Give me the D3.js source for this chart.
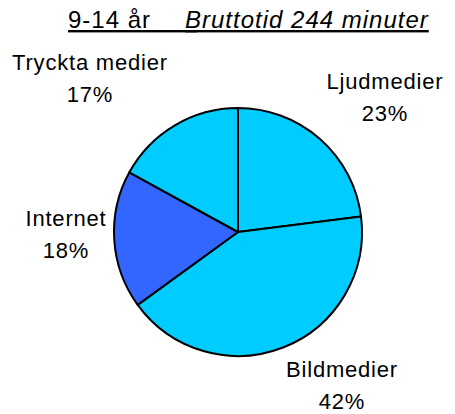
<!DOCTYPE html>
<html lang="sv">
<head>
<meta charset="UTF-8">
<script src="https://d3js.org/d3.v7.min.js"></script>
<style>
  body { margin: 0; padding: 0; background: #fff; font-family: "Liberation Sans", Arial, sans-serif; }
  svg text { fill: #000; }
</style>
</head>
<body>
<svg id="chart"></svg>
<script>
// data
const categories = ["Ljudmedier", "Bildmedier", "Internet", "Tryckta medier"];
const shares = [23, 42, 18, 17];
const titleAge = "9-14 år";
const titleText = "Bruttotid 244 minuter";

// layout (label anchors: center x, first baseline)
const labelPos = {
  "Ljudmedier":     [385, 89],
  "Bildmedier":     [342, 377],
  "Internet":       [66, 226],
  "Tryckta medier": [90, 70]
};
const colors = { "Internet": "#3366FF" };

function drawChart() {
  const width = 455, height = 414;
  const cx = 238, cy = 232, r = 124;

  const svg = d3.select("#chart").attr("width", width).attr("height", height);
  svg.selectAll("*").remove();

  const data = categories.map((c, i) => ({ name: c, value: shares[i] }));
  const pie = d3.pie().sort(null).value(d => d.value);
  const arc = d3.arc().innerRadius(0).outerRadius(r);

  const g = svg.append("g").attr("transform", `translate(${cx},${cy})`);
  g.selectAll("path")
    .data(pie(data))
    .join("path")
    .attr("d", arc)
    .attr("fill", d => colors[d.data.name] || "#00CCFF")
    .attr("stroke", "#000")
    .attr("stroke-width", 2)
    .attr("stroke-linejoin", "round");

  // title
  const title = svg.append("text")
    .attr("y", 28)
    .style("font-size", "24px")
    .style("letter-spacing", "1px")
    .style("text-decoration", "underline");
  title.append("tspan").attr("x", 68).text(titleAge + "\u00a0\u00a0\u00a0\u00a0\u00a0\u00a0");
  title.append("tspan").attr("x", 185).style("font-style", "italic").text(titleText);

  // labels
  const lab = svg.selectAll(".lab")
    .data(data)
    .join("text")
    .attr("class", "lab")
    .attr("text-anchor", "middle")
    .style("font-size", "22px")
    .style("letter-spacing", "0.8px");
  lab.append("tspan")
    .attr("x", d => labelPos[d.name][0])
    .attr("y", d => labelPos[d.name][1])
    .text(d => d.name);
  lab.append("tspan")
    .attr("x", d => labelPos[d.name][0])
    .attr("dy", 32)
    .text(d => d.value + "%");
}

drawChart();
</script>
</body>
</html>
